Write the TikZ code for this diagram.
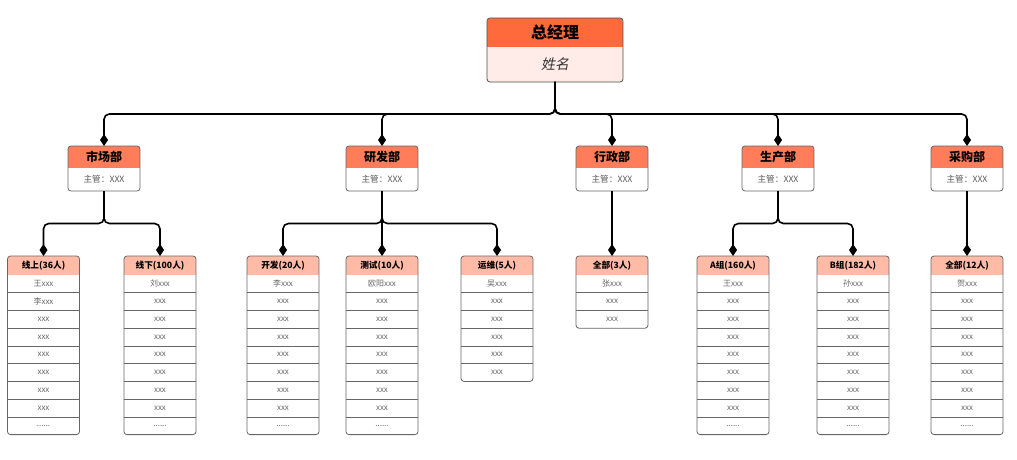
\documentclass[tikz,border=0pt]{standalone}
\usepackage{fontspec}
\setmainfont{Noto Sans CJK SC}
\newfontfamily\cjkslant{Noto Sans CJK SC}[FakeSlant=0.2]
\usepackage{tikz}
\usetikzlibrary{arrows.meta,positioning,calc}

\definecolor{ceohd}{HTML}{FF6A3D}
\definecolor{ceobd}{HTML}{FFECE8}
\definecolor{depthd}{HTML}{FF7D5A}
\definecolor{grphd}{HTML}{FFBBA6}
\newcommand{\moredots}{......}

\begin{document}
\begin{tikzpicture}[x=0.75pt, y=-0.75pt,
      every node/.style={outer sep=0pt},
      top/.style={anchor=north, minimum width=102pt, inner sep=0pt},
      dept/.style={anchor=north, minimum width=54pt, minimum height=16.5pt, inner sep=0pt},
      info/.style={minimum width=54pt, minimum height=17.25pt, inner sep=0pt,
        text=black!65, font=\fontsize{6.5}{7}\selectfont},
      ghd/.style={anchor=north, minimum width=54pt, minimum height=14.25pt, inner sep=0pt},
      cell/.style={minimum width=54pt, minimum height=13.3pt, inner sep=0pt,
        text=black!60, font=\fontsize{6}{7}\selectfont},
      ttl/.style={inner sep=0pt, font=\bfseries},
      frame/.style={draw=black!60, line width=0.6pt, rounded corners=2.25pt},
      sep/.style={draw=black!60, line width=0.5pt},
      link/.style={-{Diamond[length=9pt,width=6pt]}, line width=1.2pt, rounded corners=4pt},
    ]
    \useasboundingbox (0,0) rectangle (1017,460);

    % general manager
    \node[top, minimum height=21.75pt] (ceo) at (555,18) {};
    \node[top, minimum height=26.25pt, below=0pt of ceo] (ceo-b) {};
    \begin{scope}
      \clip[rounded corners=3pt] (ceo.north west) rectangle (ceo-b.south east);
      \fill[ceohd] (ceo.north west) rectangle (ceo.south east);
      \fill[ceobd] (ceo-b.north west) rectangle (ceo-b.south east);
    \end{scope}
    \draw[frame, draw=black!70] (ceo.north west) rectangle (ceo-b.south east);
    \node[ttl, font=\fontsize{12}{14}\selectfont\bfseries] (ceo-t) at (ceo) {总经理};
    \node[inner sep=0pt, text=black!80, font=\fontsize{10.5}{12}\selectfont\cjkslant] (ceo-n) at (ceo-b) {姓名};

    % departments
    \foreach \d/\cx/\t in {mkt/104/市场部, rd/382/研发部, adm/612/行政部, prd/778/生产部, pur/967/采购部}{
      \node[dept] (\d) at (\cx,146) {};
      \node[info, below=0pt of \d] (\d-b) {主管：XXX};
      \begin{scope}
        \clip[rounded corners=2.25pt] (\d.north west) rectangle (\d-b.south east);
        \fill[depthd] (\d.north west) rectangle (\d.south east);
      \end{scope}
      \draw[frame] (\d.north west) rectangle (\d-b.south east);
      \node[ttl, font=\fontsize{9}{10}\selectfont\bfseries] (\d-t) at (\d) {\t};
      \draw[link] (ceo-b.south) |- ($(ceo-b.south)!.5!(\d.north)$) -| (\d.north);
    }

    % groups and staff lists
    \foreach \g/\p/\cx/\n/\hd/\rows in {
        s1/mkt/43.5/9/线上(36人)/{王xxx,李xxx,xxx,xxx,xxx,xxx,xxx,xxx,\moredots},
        s2/mkt/160/9/线下(100人)/{刘xxx,xxx,xxx,xxx,xxx,xxx,xxx,xxx,\moredots},
        t1/rd/283/9/开发(20人)/{李xxx,xxx,xxx,xxx,xxx,xxx,xxx,xxx,\moredots},
        t2/rd/382/9/测试(10人)/{欧阳xxx,xxx,xxx,xxx,xxx,xxx,xxx,xxx,\moredots},
        t3/rd/497/6/运维(5人)/{吴xxx,xxx,xxx,xxx,xxx,xxx},
        a1/adm/612/3/全部(3人)/{张xxx,xxx,xxx},
        b1/prd/733/9/A组(160人)/{王xxx,xxx,xxx,xxx,xxx,xxx,xxx,xxx,\moredots},
        b2/prd/853/9/B组(182人)/{孙xxx,xxx,xxx,xxx,xxx,xxx,xxx,xxx,\moredots},
        p1/pur/967/9/全部(12人)/{贺xxx,xxx,xxx,xxx,xxx,xxx,xxx,xxx,\moredots}}{
      \node[ghd] (\g-0) at (\cx,256) {};
      \foreach \r [count=\i] in \rows {
        \pgfmathtruncatemacro{\j}{\i-1}
        \node[cell, below=0pt of \g-\j] (\g-\i) {\r};
        \ifnum\i>1 \draw[sep] (\g-\i.north west) -- (\g-\i.north east); \fi
      }
      \begin{scope}
        \clip[rounded corners=2.25pt] (\g-0.north west) rectangle (\g-\n.south east);
        \fill[grphd] (\g-0.north west) rectangle (\g-0.south east);
      \end{scope}
      \draw[frame] (\g-0.north west) rectangle (\g-\n.south east);
      \node[ttl, font=\fontsize{6.5}{7}\selectfont\bfseries] (\g-t) at (\g-0) {\hd};
      \draw[link] (\p-b.south) |- ($(\p-b.south)!.5!(\g-0.north)$) -| (\g-0.north);
    }
  \end{tikzpicture}
\end{document}
